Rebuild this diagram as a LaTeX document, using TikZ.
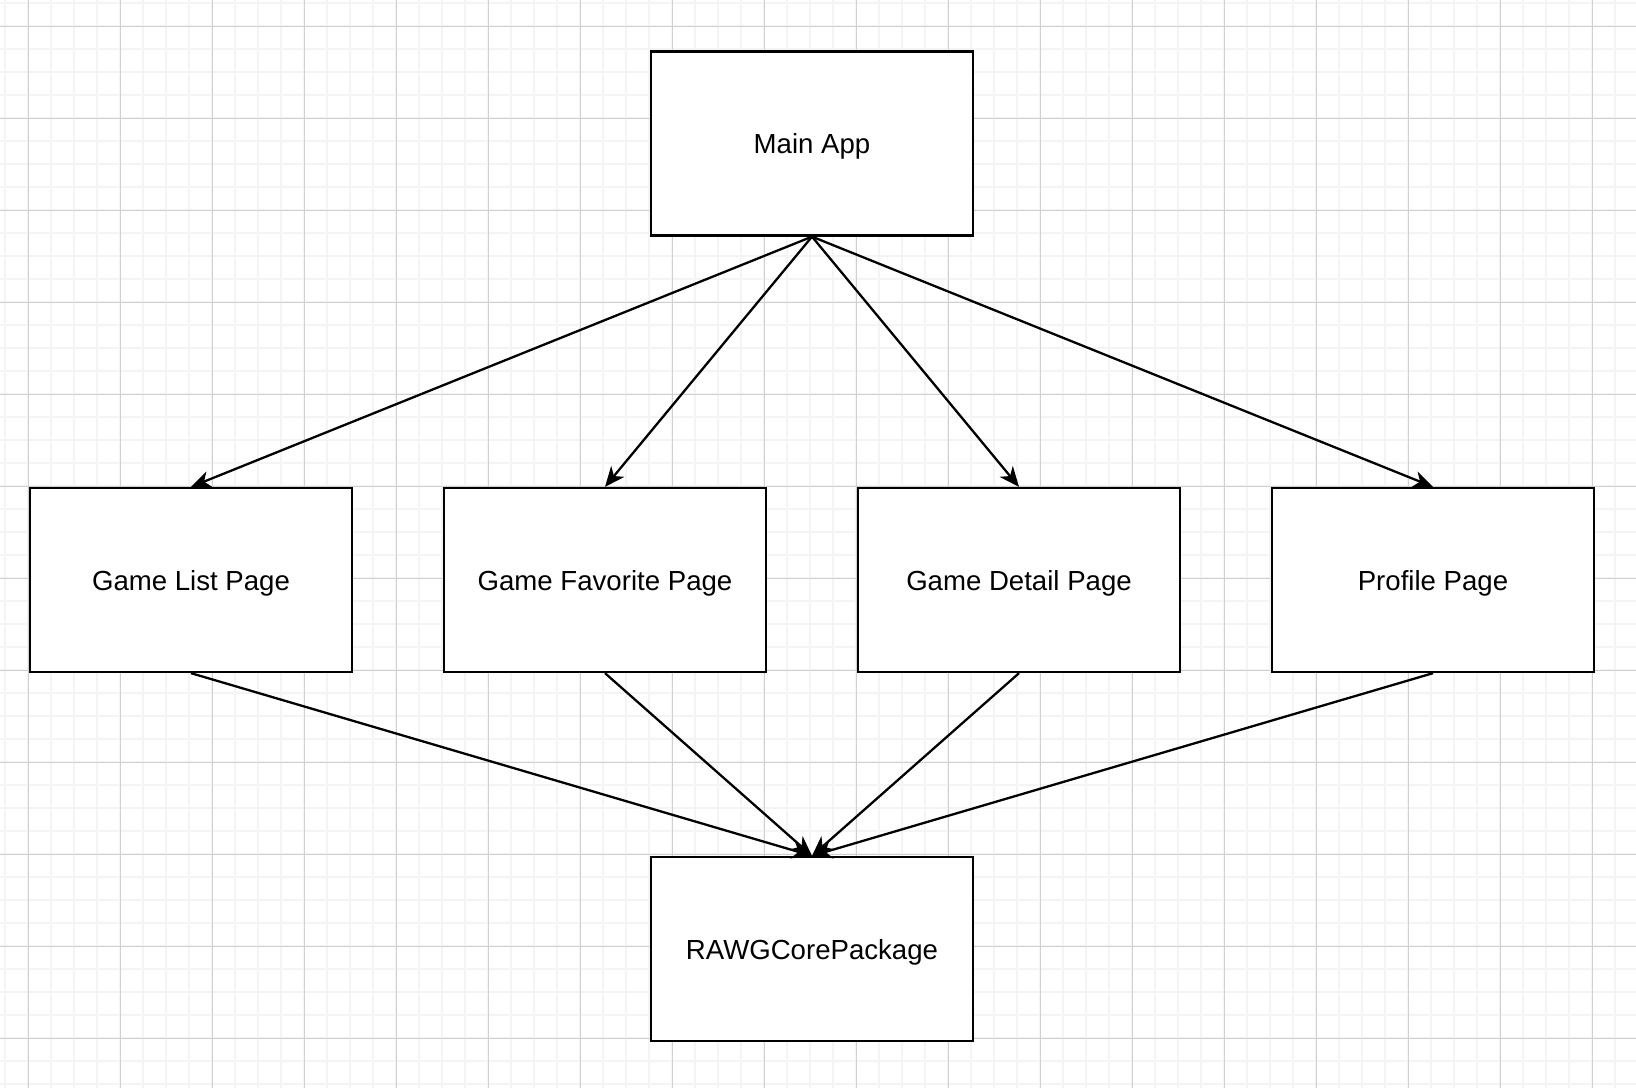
\documentclass[tikz,border=0pt]{standalone}
\usepackage{fontspec}
\setmainfont{Liberation Sans}
\usetikzlibrary{arrows.meta}
\definecolor{gridminor}{HTML}{F4F4F4}
\definecolor{gridmajor}{HTML}{D0D0D0}
\begin{document}
\begin{tikzpicture}[x=1pt,y=-1pt,
  box/.style={draw=black, line width=2.3pt, fill=white, minimum width=322pt, minimum height=184pt, inner sep=0pt, text height=21pt, text depth=1pt, font=\fontsize{27.6}{33}\selectfont},
  conn/.style={line width=2.3pt, -{Stealth[length=20pt, width=17pt, inset=6pt]}}]
\useasboundingbox (0,0) rectangle (1636,1088);
\fill[white] (0,0) rectangle (1636,1088);
% minor grid
\foreach \i in {0,...,70} {
  \draw[gridminor, line width=2pt] ({5.3+23*\i},0) -- ({5.3+23*\i},1088);
}
\foreach \i in {0,...,47} {
  \draw[gridminor, line width=2pt] (0,{3.3+23*\i}) -- (1636,{3.3+23*\i});
}
% major grid
\foreach \i in {0,...,17} {
  \draw[gridmajor, line width=1pt] ({28.3+92*\i},0) -- ({28.3+92*\i},1088);
}
\foreach \i in {0,...,11} {
  \draw[gridmajor, line width=1pt] (0,{26.3+92*\i}) -- (1636,{26.3+92*\i});
}
\node[box] (main) at (812,143.5) {Main App};
\node[box] (list) at (191,580) {Game List Page};
\node[box] (fav) at (605,580) {Game Favorite Page};
\node[box] (detail) at (1019,580) {Game Detail Page};
\node[box] (profile) at (1433,580) {Profile Page};
\node[box] (core) at (812,949) {RAWGCorePackage};
\foreach \n in {list,fav,detail,profile} {
  \draw[conn] (main.south) -- (\n.north);
  \draw[conn] (\n.south) -- (core.north);
}
\end{tikzpicture}
\end{document}
